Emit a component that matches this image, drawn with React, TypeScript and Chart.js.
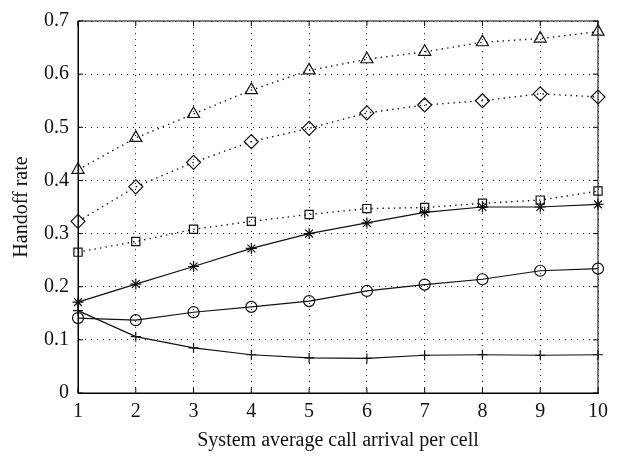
import { useEffect, useRef } from "react"
import { Chart, registerables } from "chart.js"

Chart.register(...registerables)

// Dados
const arrivals = [1, 2, 3, 4, 5, 6, 7, 8, 9, 10]
const triangleRates = [0.42, 0.48, 0.525, 0.57, 0.607, 0.628, 0.642, 0.66, 0.667, 0.68]
const diamondRates = [0.323, 0.388, 0.434, 0.473, 0.498, 0.527, 0.542, 0.55, 0.563, 0.557]
const squareRates = [0.265, 0.285, 0.308, 0.323, 0.336, 0.347, 0.349, 0.357, 0.363, 0.38]
const starRates = [0.171, 0.205, 0.238, 0.272, 0.3, 0.32, 0.34, 0.35, 0.35, 0.355]
const circleRates = [0.141, 0.137, 0.152, 0.162, 0.173, 0.192, 0.204, 0.214, 0.23, 0.234]
const plusRates = [0.155, 0.106, 0.085, 0.072, 0.066, 0.065, 0.071, 0.072, 0.071, 0.072]

const FONT = "'Liberation Serif', 'DejaVu Serif', serif"

const toPoints = (values: number[]) => values.map((y, i) => ({ x: arrivals[i], y }))

// Caixa e marcas internas (estilo MATLAB)
const boxPlugin = {
  id: "box",
  beforeDatasetsDraw(chart: any) {
    const { ctx, chartArea: a, scales } = chart
    const len = 5
    ctx.save()
    ctx.strokeStyle = "#000"
    ctx.lineWidth = 1
    ctx.setLineDash([])
    ctx.strokeRect(a.left, a.top, a.right - a.left, a.bottom - a.top)
    ctx.beginPath()
    scales.x.ticks.forEach((t: any) => {
      const px = scales.x.getPixelForValue(t.value)
      ctx.moveTo(px, a.bottom)
      ctx.lineTo(px, a.bottom - len)
      ctx.moveTo(px, a.top)
      ctx.lineTo(px, a.top + len)
    })
    scales.y.ticks.forEach((t: any) => {
      const py = scales.y.getPixelForValue(t.value)
      ctx.moveTo(a.left, py)
      ctx.lineTo(a.left + len, py)
      ctx.moveTo(a.right, py)
      ctx.lineTo(a.right - len, py)
    })
    ctx.stroke()
    ctx.restore()
  },
}

export default function App() {
  const chartRef = useRef<HTMLCanvasElement>(null)
  const chartInstance = useRef<Chart | null>(null)

  useEffect(() => {
    if (!chartRef.current) return
    if (chartInstance.current) chartInstance.current.destroy()
    const ctx = chartRef.current.getContext("2d")
    if (!ctx) return

    const series = (
      data: number[],
      pointStyle: any,
      radius: number,
      dotted: boolean
    ) => ({
      data: toPoints(data),
      borderColor: "#111",
      backgroundColor: "rgba(0,0,0,0)",
      borderWidth: dotted ? 1.4 : 1.2,
      borderDash: dotted ? [1.4, 4.2] : [],
      pointStyle,
      pointRadius: radius,
      pointBorderWidth: 1.2,
      pointBorderColor: "#111",
      pointBackgroundColor: "rgba(0,0,0,0)",
      tension: 0,
      clip: false as any,
    })

    chartInstance.current = new Chart(ctx, {
      type: "line",
      data: {
        datasets: [
          series(triangleRates, "triangle", 7, true),
          series(diamondRates, "rectRot", 7, true),
          series(squareRates, "rect", 5.8, true),
          series(starRates, "star", 5.5, false),
          series(circleRates, "circle", 5.5, false),
          series(plusRates, "cross", 5, false),
        ],
      },
      options: {
        responsive: true,
        maintainAspectRatio: false,
        animation: false,
        layout: { padding: { top: 15, right: 19, left: 0, bottom: 0 } },
        plugins: { legend: { display: false }, tooltip: { enabled: false } },
        scales: {
          x: {
            type: "linear",
            min: 1,
            max: 10,
            afterFit: (scale: any) => {
              scale.height = 66
            },
            ticks: {
              stepSize: 1,
              color: "#111",
              padding: 7,
              font: { family: FONT, size: 20 },
            },
            grid: { color: "#222", lineWidth: 1, drawTicks: false },
            border: { display: true, color: "#000", dash: [1, 5] },
            title: {
              display: true,
              text: "System average call arrival per cell",
              color: "#111",
              font: { family: FONT, size: 20 },
              padding: { top: 0, bottom: 6 },
            },
          },
          y: {
            min: 0,
            max: 0.7,
            afterFit: (scale: any) => {
              scale.width = 78
            },
            ticks: {
              stepSize: 0.1,
              color: "#111",
              padding: 9,
              font: { family: FONT, size: 20 },
              callback: (value: any) => (value === 0 ? "0" : Number(value).toFixed(1)),
            },
            grid: { color: "#222", lineWidth: 1, drawTicks: false },
            border: { display: true, color: "#000", dash: [1, 5] },
            title: {
              display: true,
              text: "Handoff rate",
              color: "#111",
              font: { family: FONT, size: 20 },
              padding: { top: 10, bottom: 0 },
            },
          },
        },
      },
      plugins: [boxPlugin],
    })

    return () => {
      if (chartInstance.current) {
        chartInstance.current.destroy()
        chartInstance.current = null
      }
    }
  }, [])

  return (
    <div
      style={{
        position: "absolute",
        left: 0,
        top: 0,
        width: 617,
        height: 459,
        background: "#fff",
      }}
    >
      <canvas ref={chartRef} />
    </div>
  )
}
